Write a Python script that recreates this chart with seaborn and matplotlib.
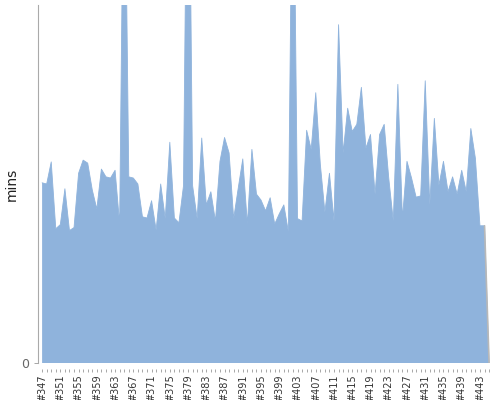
import numpy as np
import pandas as pd
import seaborn as sns
import matplotlib.pyplot as plt

# build numbers and durations (mins)
builds = list(range(347, 446))
durations = [
    30.2, 30.0, 33.7, 22.5, 23.2, 29.2, 22.2, 22.7, 31.8, 34.0,
    33.5, 29.0, 25.8, 32.5, 31.2, 31.0, 32.3, 23.3, 97.0, 31.2,
    31.0, 30.0, 24.5, 24.3, 27.2, 22.3, 30.0, 24.2, 37.0, 24.3,
    23.5, 29.7, 108.0, 29.7, 24.2, 37.7, 26.5, 28.7, 23.8, 33.8,
    37.8, 35.2, 24.2, 29.3, 34.2, 23.3, 35.8, 28.3, 27.3, 25.5,
    27.7, 23.3, 25.0, 26.5, 22.0, 97.0, 24.2, 23.8, 39.0, 35.8,
    45.3, 33.3, 25.3, 31.8, 23.8, 56.7, 35.2, 42.7, 38.8, 40.0,
    46.2, 36.0, 38.3, 28.3, 38.3, 40.0, 31.0, 23.8, 46.7, 24.2,
    33.8, 31.0, 27.8, 28.0, 47.3, 26.5, 41.0, 29.8, 33.8, 28.7,
    31.2, 28.3, 32.3, 28.7, 39.3, 34.3, 23.0, 23.0, 0.0,
]
tick_builds = list(range(347, 446, 4))

df = pd.DataFrame({'build': builds, 'mins': durations})

sns.set_style('white')
plt.rcParams['font.family'] = ['DejaVu Sans']

fig = plt.figure(figsize=(5, 4), dpi=100)
ax = fig.add_axes([0.076, 0.0925, 0.904, 0.895])

area_color = '#8fb3dc'
ax.fill_between(df['build'], df['mins'], color=area_color, lw=0)
sns.lineplot(data=df, x='build', y='mins', ax=ax, color=area_color, lw=0.6)
# grey shading on the final drop
ax.plot(df['build'].iloc[-2:], df['mins'].iloc[-2:], color='#b8b8b8', lw=1.2)

ax.set_xlim(346.1, 445.2)
ax.set_ylim(0, 60)

ax.set_xticks(tick_builds)
ax.set_xticklabels(['#%d' % b for b in tick_builds])
ax.set_xticks(builds, minor=True)
ax.tick_params(axis='x', which='both', direction='out', length=2,
               width=0.6, color='#999999', bottom=True, pad=2)
ax.tick_params(axis='x', which='major', labelsize=7, labelcolor='#333333',
               labelrotation=90)
ax.set_yticks([0])
ax.tick_params(axis='y', direction='out', length=3, width=0.6,
               color='#999999', labelsize=9, labelcolor='#666666', left=True)

ax.set_xlabel('')
ax.set_ylabel('mins', fontsize=10, color='#222222')
ax.yaxis.set_label_coords(-0.042, 0.5)

for s in ['top', 'right']:
    ax.spines[s].set_visible(False)
ax.spines['bottom'].set_position(('outward', 4))
ax.spines['bottom'].set_visible(False)
ax.spines['left'].set_color('#aaaaaa')
ax.spines['left'].set_linewidth(0.8)

fig.savefig('out.png', dpi=100)
